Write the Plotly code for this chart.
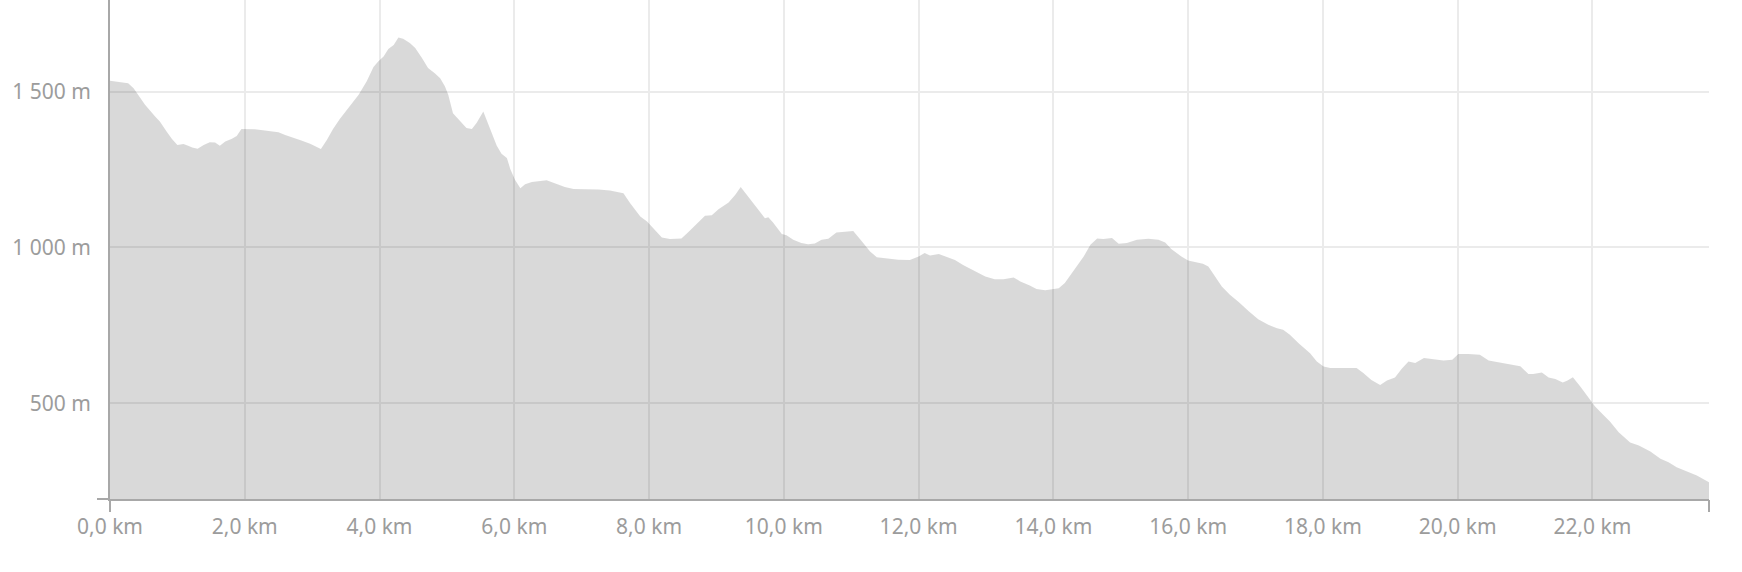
import plotly.graph_objects as go

# Elevation profile data
distance_km = [
    0.00, 0.17, 0.27, 0.35, 0.42, 0.52, 0.67, 0.74, 0.84, 0.92,
    1.00, 1.09, 1.16, 1.22, 1.30, 1.39, 1.48, 1.56, 1.63, 1.71,
    1.81, 1.88, 1.95, 2.00, 2.15, 2.30, 2.50, 2.60, 2.72, 2.84,
    2.97, 3.07, 3.13, 3.22, 3.31, 3.41, 3.54, 3.69, 3.81, 3.91,
    3.98, 4.06, 4.13, 4.21, 4.28, 4.35, 4.45, 4.53, 4.63, 4.72,
    4.82, 4.90, 4.97, 5.02, 5.09, 5.19, 5.29, 5.37, 5.44, 5.54,
    5.64, 5.74, 5.81, 5.89, 5.94, 6.01, 6.09, 6.16, 6.26, 6.36,
    6.48, 6.60, 6.75, 6.88, 7.10, 7.25, 7.42, 7.62, 7.72, 7.87,
    7.97, 8.06, 8.19, 8.31, 8.48, 8.58, 8.71, 8.83, 8.93, 9.03,
    9.18, 9.28, 9.36, 9.47, 9.60, 9.72, 9.77, 9.84, 9.97, 10.04,
    10.14, 10.26, 10.36, 10.46, 10.56, 10.66, 10.78, 10.91, 11.03, 11.16,
    11.28, 11.38, 11.55, 11.70, 11.87, 12.00, 12.09, 12.17, 12.30, 12.39,
    12.54, 12.66, 12.81, 12.99, 13.13, 13.26, 13.41, 13.51, 13.65, 13.75,
    13.88, 13.98, 14.08, 14.17, 14.32, 14.45, 14.55, 14.65, 14.74, 14.87,
    14.97, 15.09, 15.24, 15.41, 15.56, 15.66, 15.75, 15.90, 16.00, 16.10,
    16.22, 16.30, 16.40, 16.50, 16.62, 16.75, 16.90, 17.04, 17.19, 17.32,
    17.41, 17.51, 17.64, 17.74, 17.81, 17.91, 18.01, 18.11, 18.28, 18.50,
    18.60, 18.72, 18.85, 18.95, 19.07, 19.17, 19.27, 19.37, 19.50, 19.64,
    19.79, 19.92, 20.01, 20.16, 20.33, 20.46, 20.58, 20.75, 20.83, 20.93,
    21.05, 21.12, 21.25, 21.35, 21.45, 21.56, 21.63, 21.71, 21.82, 21.94,
    22.04, 22.16, 22.26, 22.39, 22.56, 22.69, 22.86, 23.01, 23.13, 23.25,
    23.40, 23.55, 23.73,
]
elevation_m = [
    1535, 1531, 1527, 1511, 1490, 1458, 1420, 1404, 1372, 1348,
    1329, 1332, 1326, 1321, 1317, 1329, 1338, 1337, 1326, 1340,
    1349, 1358, 1380, 1380, 1379, 1375, 1370, 1361, 1351, 1343,
    1333, 1324, 1316, 1346, 1380, 1412, 1447, 1490, 1533, 1579,
    1597, 1613, 1637, 1650, 1674, 1670, 1656, 1640, 1608, 1576,
    1559, 1543, 1517, 1490, 1431, 1406, 1383, 1380, 1399, 1436,
    1380, 1326, 1301, 1287, 1252, 1217, 1190, 1203, 1210, 1213,
    1216, 1206, 1194, 1188, 1187, 1186, 1183, 1174, 1142, 1099,
    1083, 1062, 1032, 1027, 1029, 1049, 1076, 1102, 1103, 1123,
    1144, 1169, 1194, 1164, 1129, 1094, 1097, 1080, 1043, 1039,
    1025, 1014, 1010, 1013, 1025, 1028, 1048, 1051, 1053, 1019,
    987, 969, 965, 961, 960, 971, 982, 974, 979, 971,
    960, 944, 926, 907, 898, 898, 904, 891, 878, 867,
    863, 866, 869, 886, 930, 971, 1009, 1029, 1027, 1030,
    1012, 1014, 1025, 1028, 1025, 1016, 995, 971, 958, 953,
    948, 939, 905, 875, 848, 825, 795, 770, 752, 741,
    736, 720, 693, 674, 661, 634, 618, 613, 613, 613,
    597, 575, 559, 573, 583, 611, 634, 629, 645, 642,
    637, 640, 658, 658, 656, 637, 632, 627, 624, 619,
    594, 594, 599, 583, 578, 567, 573, 584, 554, 517,
    490, 463, 442, 407, 374, 365, 345, 322, 311, 295,
    281, 268, 247,
]

x_tick_values = [0, 2, 4, 6, 8, 10, 12, 14, 16, 18, 20, 22]
x_tick_labels = ["0,0 km", "2,0 km", "4,0 km", "6,0 km", "8,0 km", "10,0 km",
                 "12,0 km", "14,0 km", "16,0 km", "18,0 km", "20,0 km", "22,0 km"]
y_tick_values = [500, 1000, 1500]
y_tick_labels = ["500 m", "1 000 m", "1 500 m"]

x_range = [0, distance_km[-1]]
y_range = [193, 1794]

TEXT = "#9c9c9c"
AXIS = "#a8a8a8"
GRID = "#ebebeb"
FONT = "Noto Sans"
FSIZE = 21

fig = go.Figure()
fig.add_trace(go.Scatter(
    x=distance_km, y=elevation_m, mode="lines",
    line=dict(width=0, color="rgba(0,0,0,0)"),
    fill="tozeroy", fillcolor="rgba(0,0,0,0.15)",
    hoverinfo="skip", showlegend=False,
))
# helper trace for end-tick axes
fig.add_trace(go.Scatter(
    x=[x_range[0], x_range[1]], y=[y_range[0], y_range[0]], mode="lines",
    line=dict(width=0, color="rgba(0,0,0,0)"),
    xaxis="x2", yaxis="y2", hoverinfo="skip", showlegend=False,
))

fig.update_layout(
    width=1742, height=572,
    margin=dict(l=110, r=33, t=0, b=73),
    paper_bgcolor="white", plot_bgcolor="white",
    font=dict(family=FONT, size=FSIZE, color=TEXT),
    xaxis=dict(
        range=x_range, tickvals=x_tick_values, ticktext=x_tick_labels,
        showgrid=True, gridcolor=GRID, gridwidth=2,
        showline=True, linecolor=AXIS, linewidth=2,
        ticks="", zeroline=False, ticklabelstandoff=8,
        tickfont=dict(family=FONT, size=FSIZE, color=TEXT),
    ),
    yaxis=dict(
        range=y_range, tickvals=y_tick_values, ticktext=y_tick_labels,
        showgrid=True, gridcolor=GRID, gridwidth=2,
        showline=True, linecolor=AXIS, linewidth=2,
        ticks="", zeroline=False, ticklabelstandoff=13,
        tickfont=dict(family=FONT, size=FSIZE, color=TEXT),
    ),
    xaxis2=dict(
        range=x_range, overlaying="x", anchor="y2", side="bottom",
        tickvals=[x_range[0], x_range[1]], ticks="outside", ticklen=12,
        tickwidth=2, tickcolor=AXIS, showticklabels=False,
        showgrid=False, showline=False, zeroline=False,
    ),
    yaxis2=dict(
        range=y_range, overlaying="y", anchor="x2", side="left",
        tickvals=[y_range[0]], ticks="outside", ticklen=12,
        tickwidth=2, tickcolor=AXIS, showticklabels=False,
        showgrid=False, showline=False, zeroline=False,
    ),
)

fig.write_html("out.html", config={"displayModeBar": False},
               post_script="document.body.style.margin='0';")
